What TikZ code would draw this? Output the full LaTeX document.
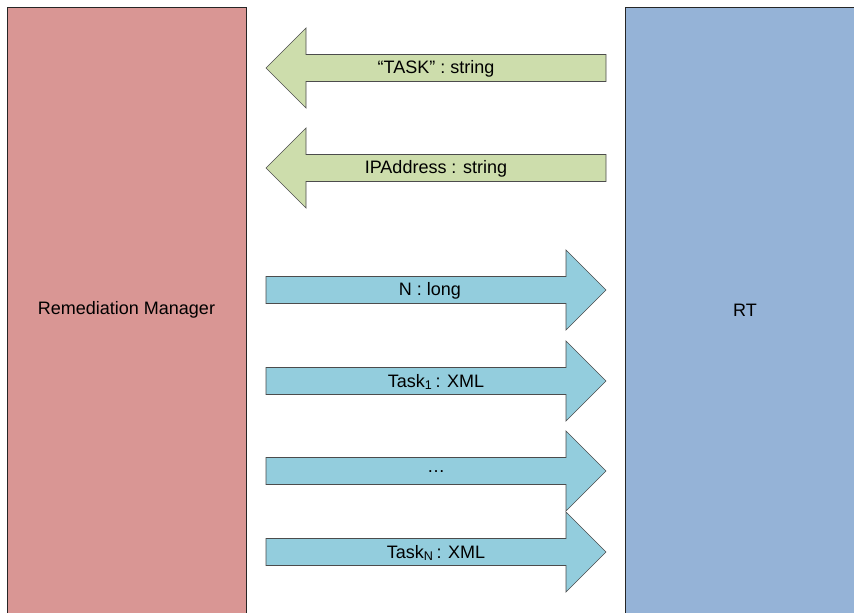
\documentclass[tikz,border=0pt]{standalone}
\usepackage{fontspec}
\setmainfont{Liberation Sans}
\definecolor{rmred}{HTML}{D99694}
\definecolor{rtblue}{HTML}{95B3D7}
\definecolor{ingreen}{HTML}{CDDDAC}
\definecolor{outaqua}{HTML}{93CDDD}
\begin{document}
\begin{tikzpicture}[x=0.75pt, y=-0.75pt,
		box/.style = {draw = black!85, line width = 0.7pt},
		lbl/.style = {font = \fontsize{13.5}{16}\selectfont, inner sep = 0pt},
		pics/outarrow/.style = {code = {
			\draw[draw = black!70, line width = 0.5pt, fill = outaqua]
				(0,-13.5) -- (300,-13.5) -- (300,-40) -- (340,0) -- (300,40) -- (300,13.5) -- (0,13.5) -- cycle;
		}},
		pics/inarrow/.style = {code = {
			\draw[draw = black!70, line width = 0.5pt, fill = ingreen]
				(0,0) -- (40,-40) -- (40,-13.5) -- (340,-13.5) -- (340,13.5) -- (40,13.5) -- (40,40) -- cycle;
		}}]
				\useasboundingbox (0,0) rectangle (854,613);
				% the two parties
				\draw[box, fill = rmred] (7,7) rectangle (246,625);
				\draw[box, fill = rtblue] (625,7) rectangle (870,625);
				\node[lbl] (rm) at (126.5,310) {Remediation Manager};
				\node[lbl] (rt) at (745,310) {RT};
				% RT -> manager
				\pic at (266,68) {inarrow};
				\pic at (266,168) {inarrow};
				\node[lbl] (task) at (436,69) {“TASK” : string};
				\node[lbl] (ip) at (436,169) {IPAddress : string};
				% manager -> RT
				\pic at (266,290) {outarrow};
				\pic at (266,381) {outarrow};
				\pic at (266,471) {outarrow};
				\pic at (266,552) {outarrow};
				\node[lbl] (n) at (430,291) {N : long};
				\node[lbl] (t1) at (436,382) {Task\textsubscript{1}\,: XML};
				\node[lbl] (dots) at (436,472) {…};
				\node[lbl] (tn) at (436,553) {Task\textsubscript{N}\,: XML};
			\end{tikzpicture}
\end{document}
